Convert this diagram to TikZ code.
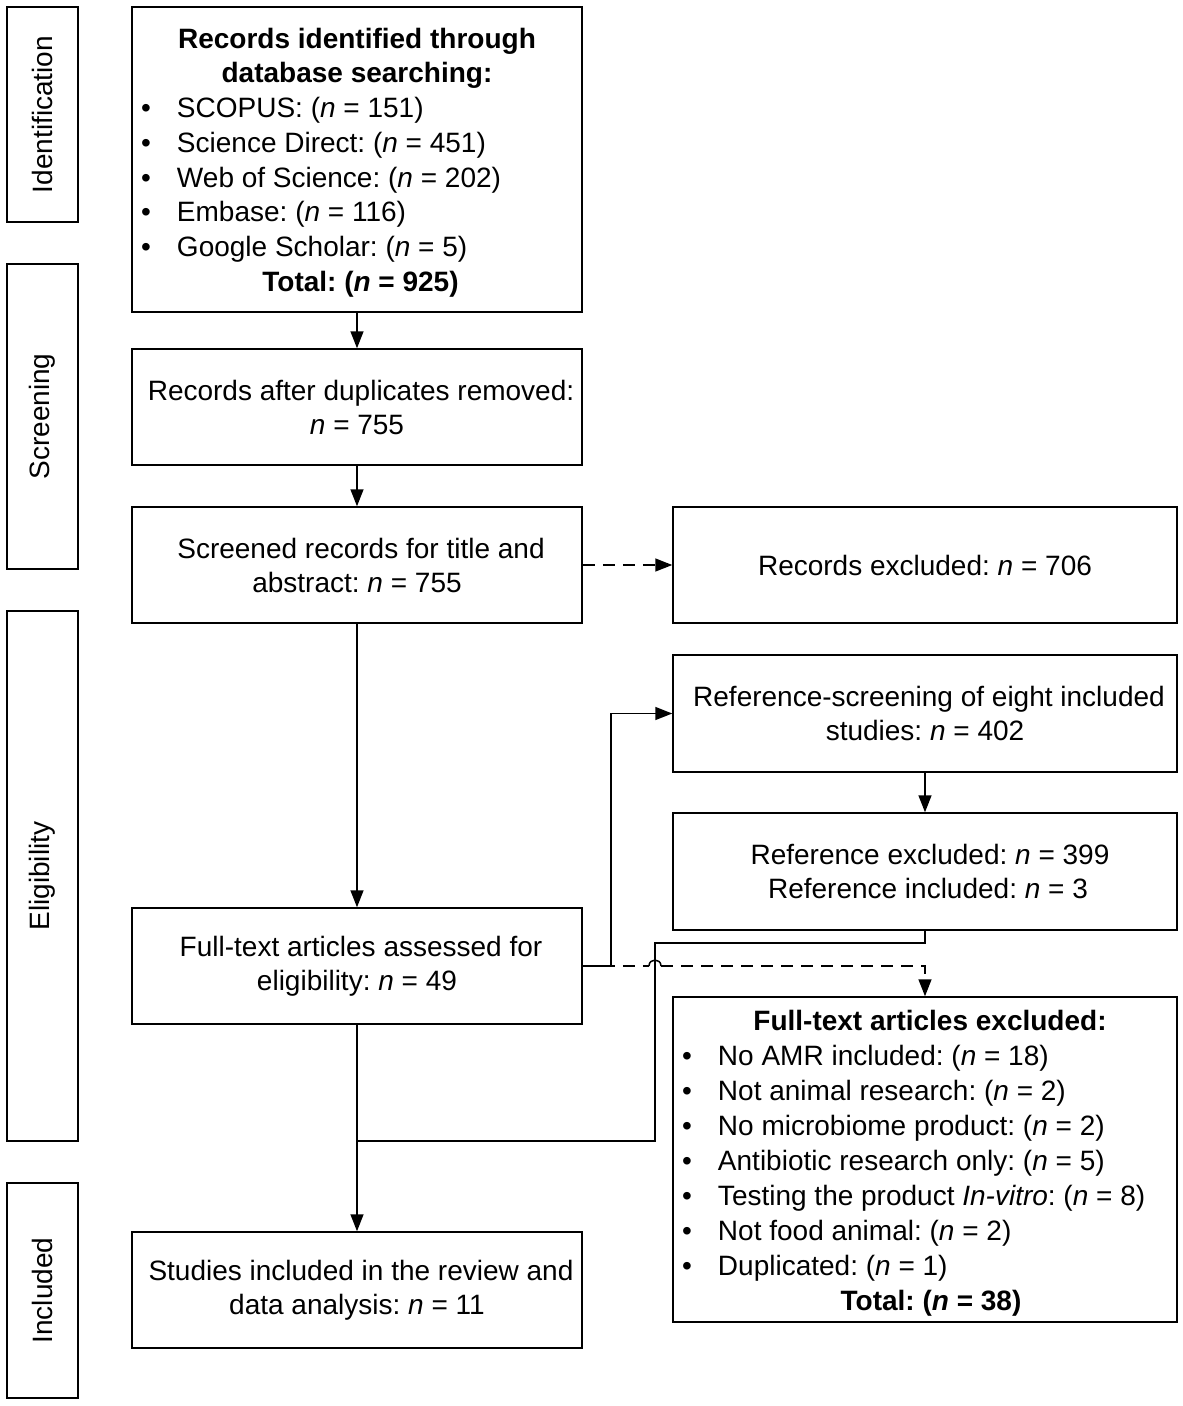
\documentclass[tikz,border=0pt]{standalone}
\usepackage{fontspec}
\setmainfont{Liberation Sans}
\usetikzlibrary{arrows.meta}
\frenchspacing
\newcommand{\itm}[1]{\hspace*{9pt}\makebox[36pt][l]{•}#1}
\newcommand{\nn}{\textit{n}}
\newcommand{\bn}{\textbf{\textit{n}}}
\newcommand{\tsp}{\hspace*{8pt}}
\begin{document}
\frenchspacing
\begin{tikzpicture}[x=1pt,y=-1pt,
  box/.style={draw, line width=1.5pt, inner sep=0pt, align=center,
    font=\fontsize{28}{34}\selectfont, minimum width=450pt, minimum height=116pt},
  rbox/.style={box, minimum width=504pt},
  side/.style={draw, line width=1.5pt, rotate=90, inner sep=0pt, minimum height=71pt,
    font=\fontsize{28}{34}\selectfont},
  conn/.style={line width=1.5pt, -{Triangle[length=17pt,width=13pt]}},
  plain/.style={line width=1.5pt},
  dashline/.style={line width=1.5pt, dash pattern=on 12pt off 8pt}]
\useasboundingbox (0,0) rectangle (1183,1406);

% phase labels
\node[side, minimum width=215pt] (sId) at (42.5,114.5) {Identification};
\node[side, minimum width=305pt] (sSc) at (42.5,416.5) {Screening};
\node[side, minimum width=530pt] (sEl) at (42.5,876) {Eligibility};
\node[side, minimum width=215pt] (sIn) at (42.5,1290.5) {Included};

% main boxes
\node[box, minimum height=305pt] (b1) at (357,159.5) {\parbox{450pt}{\fontsize{28}{34.7}\selectfont
  \vspace*{6pt}
  {\centering\bfseries Records identified through\\ database searching:\par}
  {\raggedright
  \itm{SCOPUS: (\nn{} = 151)}\\
  \itm{Science Direct: (\nn{} = 451)}\\
  \itm{Web of Science: (\nn{} = 202)}\\
  \itm{Embase: (\nn{} = 116)}\\
  \itm{Google Scholar: (\nn{} = 5)}\par}
  {\centering\bfseries\hspace*{7pt}Total: (\bn{} = 925)\par}}};
\node[box] (b2) at (357,407) {\tsp Records after duplicates removed:\\ \nn{} = 755};
\node[box] (b3) at (357,565) {\tsp Screened records for title and\\ abstract: \nn{} = 755};
\node[box] (ft) at (357,966) {\tsp Full-text articles assessed for\\ eligibility: \nn{} = 49};
\node[box] (inc) at (357,1290) {\tsp Studies included in the review and\\ data analysis: \nn{} = 11};

% right boxes
\node[rbox] (ex1) at (925,565) {Records excluded: \nn{} = 706};
\node[rbox, minimum height=117pt] (rs) at (925,713.5) {\tsp Reference-screening of eight included\\ studies: \nn{} = 402};
\node[rbox, minimum height=117pt] (re) at (925,871.5) {\hspace*{10pt}Reference excluded: \nn{} = 399\\ \hspace*{6pt}Reference included: \nn{} = 3};
\node[rbox, minimum height=325pt] (fe) at (925,1159.5) {\parbox{504pt}{\fontsize{28}{35}\selectfont
  \vspace*{8pt}
  {\centering\bfseries\hspace*{10pt}Full-text articles excluded:\par}
  {\raggedright
  \itm{No AMR included: (\nn{} = 18)}\\
  \itm{Not animal research: (\nn{} = 2)}\\
  \itm{No microbiome product: (\nn{} = 2)}\\
  \itm{Antibiotic research only: (\nn{} = 5)}\\
  \itm{Testing the product \textit{In-vitro}: (\nn{} = 8)}\\
  \itm{Not food animal: (\nn{} = 2)}\\
  \itm{Duplicated: (\nn{} = 1)}\par}
  {\centering\bfseries\hspace*{12pt}Total: (\bn{} = 38)\par}}};

% coordinates
\coordinate (hopL) at (649,966);
\coordinate (hopR) at (661,966);
\coordinate (jc) at (655,1141);
\coordinate (jn) at (357,1141);

% connectors
\draw[conn] (b1) -- (b2);
\draw[conn] (b2) -- (b3);
\draw[conn] (b3) -- (ft);
\draw[conn, dash pattern=on 12pt off 8pt] (b3) -- (ex1);
\draw[conn] (rs) -- (re);
\draw[conn] (ft.east) -- ++(28,0) |- (rs.west);
\draw[dashline] (ft.east) -- (hopL);
\draw[plain] (hopL) .. controls (649,958) and (661,958) .. (hopR);
\draw[conn, dash pattern=on 12pt off 8pt] (hopR) -- (fe.north |- ft.east) -- (fe.north);
\draw[plain] (re.south) -- ++(0,12) -| (jc) -- (jn);
\draw[conn] (ft) -- (inc);
\end{tikzpicture}
\end{document}
